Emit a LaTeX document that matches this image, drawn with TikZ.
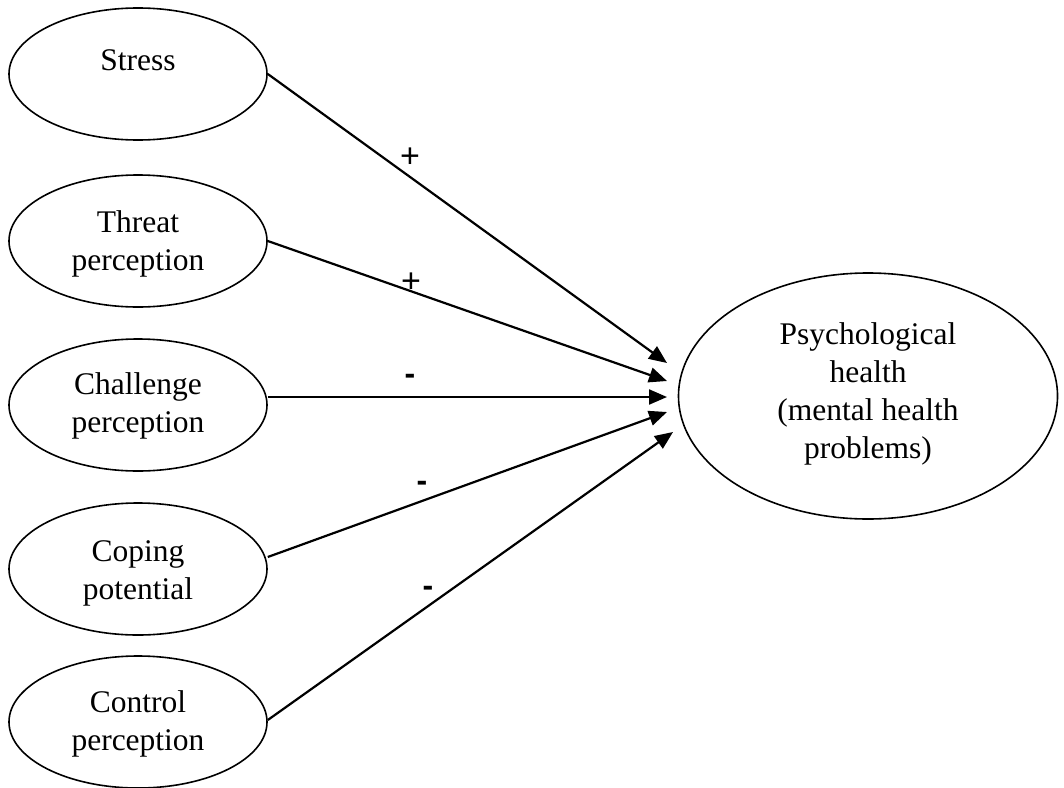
\documentclass[tikz,border=0pt]{standalone}
\usepackage{fontspec}
\setmainfont{Liberation Serif}
\newfontfamily\labfont{Liberation Sans}
\usetikzlibrary{shapes.geometric,arrows.meta}
\begin{document}
\begin{tikzpicture}[x=1pt,y=-1pt,
 oval/.style={draw,ellipse,line width=1.6pt,inner sep=0pt,minimum width=258pt,minimum height=132pt},
 bigoval/.style={draw,ellipse,line width=1.6pt,inner sep=0pt,minimum width=379pt,minimum height=246pt},
 txt/.style={font=\fontsize{31.5}{38}\selectfont,align=center,inner sep=0pt},
 conn/.style={line width=2.2pt,-{Triangle[length=18pt,width=15pt]}},
 plus/.style={font=\labfont\fontsize{34}{36}\selectfont,inner sep=0pt},
 minus/.style={font=\labfont\bfseries\fontsize{32}{36}\selectfont,inner sep=0pt}]
\useasboundingbox (0,0) rectangle (1064,787);
\fill[white] (0,0) rectangle (1064,787);
% left ellipses
\node[oval] (stress) at (138,74) {};
\node[oval] (threat) at (138,241) {};
\node[oval] (chall) at (138,405) {};
\node[oval] (coping) at (138,569) {};
\node[oval] (control) at (138,722) {};
\node[txt] (stresst) at (138,60) {Stress};
\node[txt] (threatt) at (138,244) {Threat\\perception};
\node[txt] (challt) at (138,406) {Challenge\\perception};
\node[txt] (copingt) at (138,573) {Coping\\potential};
\node[txt] (controlt) at (138,724) {Control\\perception};
% right ellipse
\node[bigoval] (psych) at (868,396) {};
\node[txt] (psycht) at (868,394) {Psychological\\health\\(mental health\\problems)};
% arrow tips
\coordinate (e1) at (667,363);
\coordinate (e2) at (667,381);
\coordinate (e3) at (667,397);
\coordinate (e4) at (667,412);
\coordinate (e5) at (673,432);
\draw[conn] (stress.east) -- (e1);
\draw[conn] (threat.east) -- (e2);
\draw[conn] (chall.east |- e3) -- (e3);
\draw[conn] ([yshift=12pt]coping.east) -- (e4);
\draw[conn] ([yshift=2pt]control.east) -- (e5);
% signs
\node[plus] (s1) at (410,158) {+};
\node[plus] (s2) at (411,283) {+};
\node[minus] (s3) at (410,379) {-};
\node[minus] (s4) at (422,486) {-};
\node[minus] (s5) at (428,591) {-};
\end{tikzpicture}
\end{document}
